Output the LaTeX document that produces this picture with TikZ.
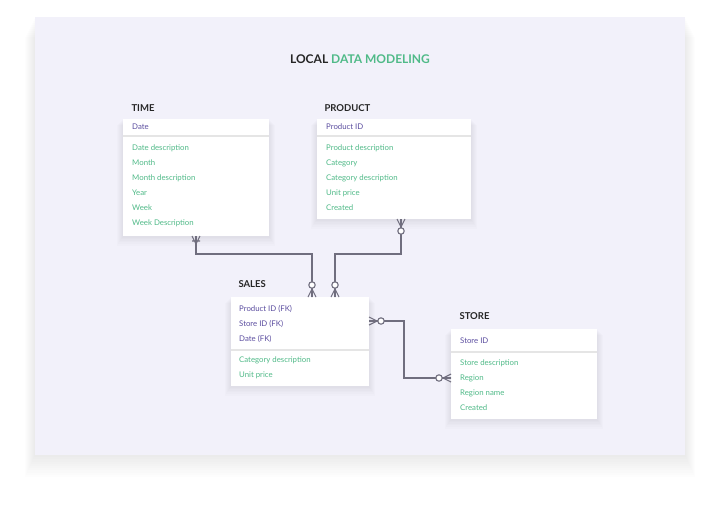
\documentclass[tikz,border=0pt]{standalone}
\usepackage{fontspec}
\setmainfont{Lato}
\usetikzlibrary{positioning,calc}
\definecolor{keyc}{RGB}{92,78,160}
\definecolor{fldc}{RGB}{80,186,136}
\definecolor{relc}{RGB}{112,110,126}
\definecolor{cardc}{RGB}{242,241,250}
\tikzset{
  card/.style={fill=white,draw=none},
  ttl/.style={anchor=west,font=\bfseries\fontsize{9.5}{10}\selectfont,text=black!85},
  key/.style={anchor=west,font=\fontsize{7.8}{8}\selectfont,text=keyc,inner sep=0pt},
  fld/.style={anchor=west,font=\fontsize{7.8}{8}\selectfont,text=fldc,inner sep=0pt},
  rel/.style={draw=relc,line width=1.1pt},
}
% soft shadow under a box, #1 = corner, #2 = opposite corner
\newcommand{\softshadow}[2]{\foreach \s in {1,...,6}
  \fill[black,opacity=0.012] ($(#1)+(-\s,\s)$) rectangle ($(#2)+(\s,1.6*\s)$);}
% crow's foot with a ring, #1 = point on the table edge, #2 = outward direction
\newcommand{\crowring}[2]{\begin{scope}[shift={(#1)},rotate=#2]
  \draw[rel] (8,0) -- (0,-4) (8,0) -- (0,0) (8,0) -- (0,4);
  \draw[rel,fill=white] (12,0) circle (3.2);
\end{scope}}
\newcommand{\crowbar}[2]{\begin{scope}[shift={(#1)},rotate=#2]
  \draw[rel] (8,0) -- (0,-4) (8,0) -- (0,0) (8,0) -- (0,4) (5,-4) -- (5,4);
\end{scope}}

\begin{document}
\begin{tikzpicture}[x=1pt,y=-1pt]
  \useasboundingbox (0,0) rectangle (720,507);
  \fill[white] (0,0) rectangle (720,507);
  \foreach \s in {2,4,...,20}
    \fill[black,opacity=0.007] (35-0.5*\s,17+\s) rectangle (685+0.5*\s,455+1.1*\s);
  \fill[cardc] (35,17) rectangle (685,455);

  % title
  \node (title) at (360,59) {\bfseries\fontsize{12}{13}\selectfont\color{black!85}LOCAL \color{fldc}DATA MODELING};

  % TIME
  \node[ttl] (timet) at (128,108) {TIME};
  \softshadow{123,119}{269,236}
  \path[card] (123,119) rectangle (269,236);
  \coordinate (time) at (196,236);
  \draw[black!10,line width=1.5pt] (123,136) -- (269,136);
  \node[key] (timek) at (132,127) {Date};
  \foreach \f [count=\i] in {Date description,Month,Month description,Year,Week,Week Description}
    \node[fld] at (132,133+15*\i) {\f};

  % PRODUCT
  \node[ttl] (prodt) at (321,108) {PRODUCT};
  \softshadow{317,119}{471,219}
  \path[card] (317,119) rectangle (471,219);
  \coordinate (prod) at (401,219);
  \draw[black!10,line width=1.5pt] (317,136) -- (471,136);
  \node[key] (prodk) at (326,127) {Product ID};
  \foreach \f [count=\i] in {Product description,Category,Category description,Unit price,Created}
    \node[fld] at (326,133+15*\i) {\f};

  % SALES
  \node[ttl] (salest) at (235,284) {SALES};
  \softshadow{231,297}{369,386}
  \path[card] (231,297) rectangle (369,386);
  \coordinate (salesa) at (312,297);
  \coordinate (salesb) at (335,297);
  \coordinate (salesc) at (369,321);
  \draw[black!10,line width=1.5pt] (231,350) -- (369,350);
  \foreach \f [count=\i] in {Product ID (FK),Store ID (FK),Date (FK)}
    \node[key] at (239,294+15*\i) {\f};
  \foreach \f [count=\i] in {Category description,Unit price}
    \node[fld] at (239,345+15*\i) {\f};

  % STORE
  \node[ttl] (storet) at (456,316) {STORE};
  \softshadow{451,329}{597,419}
  \path[card] (451,329) rectangle (597,419);
  \coordinate (store) at (451,378);
  \draw[black!10,line width=1.5pt] (451,352) -- (597,352);
  \node[key] (storek) at (460,341) {Store ID};
  \foreach \f [count=\i] in {Store description,Region,Region name,Created}
    \node[fld] at (460,348+15*\i) {\f};

  % relations
  \draw[rel] (time) |- (312,254) -- (salesa);
  \draw[rel] (prod) |- (335,254) -- (salesb);
  \draw[rel] (salesc) -| (404,378) -- (store);
  \crowbar{time}{-90}
  \crowring{prod}{-90}
  \crowring{salesa}{90}
  \crowring{salesb}{90}
  \crowring{salesc}{0}
  \crowring{store}{180}
\end{tikzpicture}
\end{document}
